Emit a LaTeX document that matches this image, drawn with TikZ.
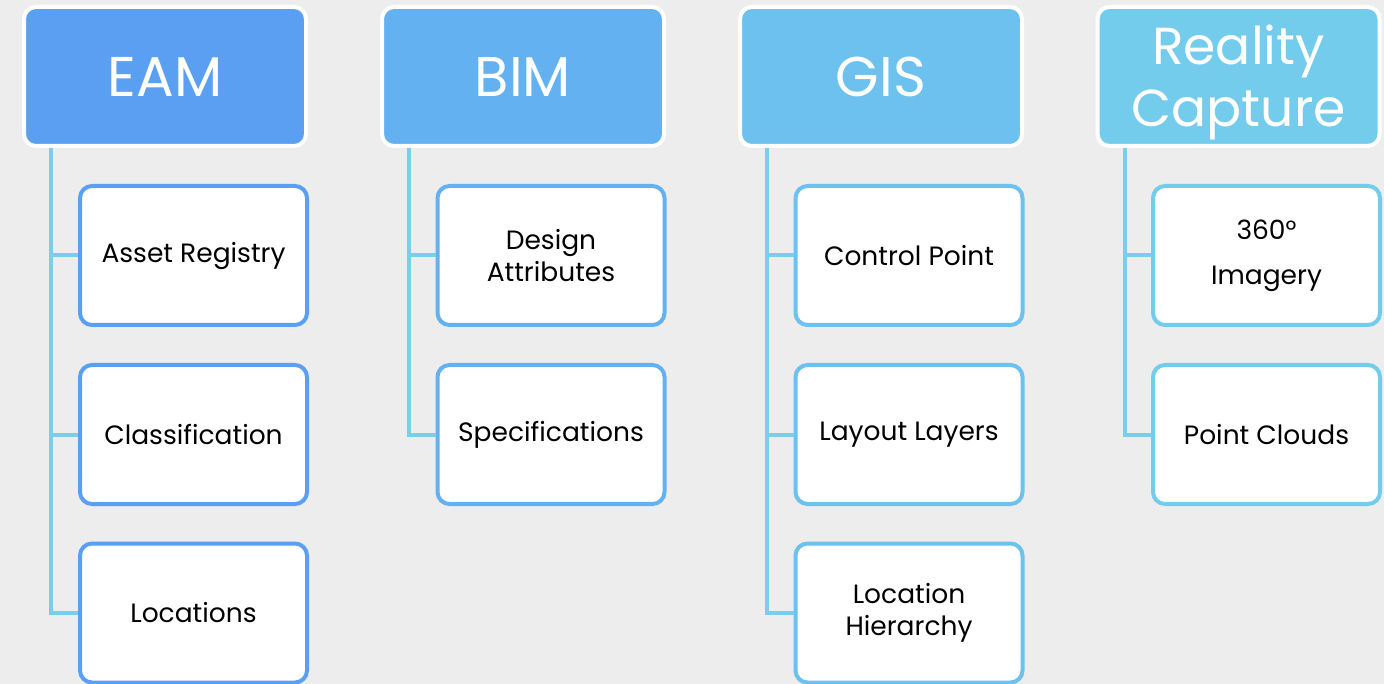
\documentclass[tikz,border=0pt]{standalone}
\usepackage{fontspec}
\setmainfont{Poppins}
\usetikzlibrary{positioning}
\definecolor{bgGray}{HTML}{EDEDED}
\definecolor{eamBlue}{HTML}{5B9FF2}
\definecolor{bimBlue}{HTML}{63B1F1}
\definecolor{gisBlue}{HTML}{6CC1EE}
\definecolor{rcBlue}{HTML}{74CCEC}
\definecolor{connBlue}{HTML}{78CFEB}
\tikzset{
  header/.style={draw=white, line width=4pt, rounded corners=12pt, fill=#1,
    minimum width=282pt, minimum height=139pt, text=white, align=center,
    font=\fontsize{56}{57}\selectfont, inner sep=0pt},
  item/.style={draw=#1, line width=4pt, rounded corners=12pt, fill=white,
    minimum width=227pt, minimum height=139pt, text=black, align=center,
    font=\fontsize{26.5}{32}\selectfont, inner sep=0pt},
  conn/.style={draw=connBlue, line width=4pt}
}
\begin{document}
\begin{tikzpicture}[x=1pt,y=-1pt]
\fill[bgGray] (0,0) rectangle (1384,684);
\useasboundingbox (0,0) rectangle (1384,684);
% headers
\node[header=eamBlue] (eam) at (165,76.5) {EAM};
\node[header=bimBlue] (bim) at (523,76.5) {BIM};
\node[header=gisBlue] (gis) at (881,76.5) {GIS};
\node[header=rcBlue, font=\fontsize{52}{58}\selectfont] (rc) at (1238.5,76.5) {\rule{0pt}{51pt}Reality\\[4pt]Capture};
% trunks
\coordinate (eamtrunk) at ([xshift=29pt]eam.south west);
\coordinate (bimtrunk) at ([xshift=29pt]bim.south west);
\coordinate (gistrunk) at ([xshift=29pt]gis.south west);
\coordinate (rctrunk) at ([xshift=29pt]rc.south west);
% EAM items
\node[item=eamBlue] (eam1) at (193.5,255.5) {Asset Registry};
\node[item=eamBlue] (eam2) at (193.5,434.5) {Classification};
\node[item=eamBlue] (eam3) at (193.5,613) {Locations};
% BIM items
\node[item=bimBlue] (bim1) at (551,255.5) {Design\\Attributes};
\node[item=bimBlue] (bim2) at (551,434.5) {Specifications};
% GIS items
\node[item=gisBlue] (gis1) at (909,255.5) {Control Point};
\node[item=gisBlue] (gis2) at (909,434.5) {Layout Layers};
\node[item=gisBlue] (gis3) at (909,613) {Location\\Hierarchy};
% Reality Capture items
\node[item=rcBlue] (rc1) at (1266.5,255.5) {360°\\[13pt]Imagery};
\node[item=rcBlue] (rc2) at (1266.5,434.5) {Point Clouds};
% connectors
\draw[conn] (eamtrunk) |- (eam3.west);
\draw[conn] (eam1.west -| eamtrunk) -- (eam1.west);
\draw[conn] (eam2.west -| eamtrunk) -- (eam2.west);
\draw[conn] (bimtrunk) |- (bim2.west);
\draw[conn] (bim1.west -| bimtrunk) -- (bim1.west);
\draw[conn] (gistrunk) |- (gis3.west);
\draw[conn] (gis1.west -| gistrunk) -- (gis1.west);
\draw[conn] (gis2.west -| gistrunk) -- (gis2.west);
\draw[conn] (rctrunk) |- (rc2.west);
\draw[conn] (rc1.west -| rctrunk) -- (rc1.west);
\end{tikzpicture}
\end{document}
